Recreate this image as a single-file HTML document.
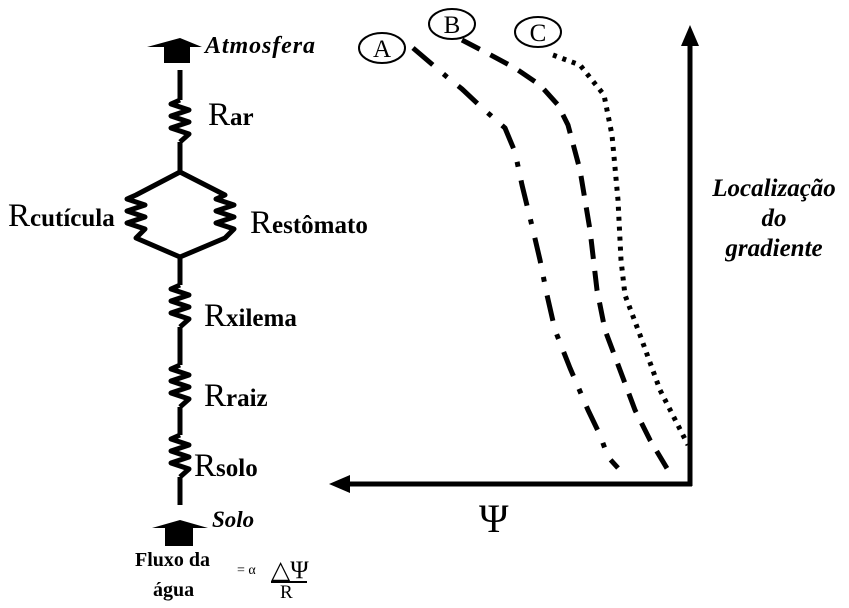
<!DOCTYPE html>
<html><head><meta charset="utf-8"><style>
html,body{margin:0;padding:0;background:#fff;}
svg{display:block}
text{font-family:"Liberation Serif",serif;fill:#000}
</style></head><body>
<svg width="849" height="608" viewBox="0 0 849 608" xmlns="http://www.w3.org/2000/svg">
<polygon points="147,47 180,38 202,47" fill="#000"/>
<rect x="164" y="46" width="26" height="17" fill="#000"/>
<g stroke="#000" stroke-width="5" fill="none" stroke-linejoin="round">
<line x1="180" y1="70" x2="180" y2="100"/>
<polyline points="180,100 171,104 189,110 171,116 189,122 171,128 189,134 180,142"/>
<line x1="180" y1="142" x2="180" y2="172"/>
<polyline points="180,172 136,195 127,199 145,205 127,211 145,217 127,223 145,229 136,238 180,257"/>
<polyline points="180,172 225,195 216,199 234,205 216,211 234,217 216,223 234,229 225,238 180,257"/>
<line x1="180" y1="257" x2="180" y2="285"/>
<polyline points="180,285 171,289 189,295 171,301 189,307 171,313 189,319 180,327"/>
<line x1="180" y1="327" x2="180" y2="365"/>
<polyline points="180,365 171,369 189,375 171,381 189,387 171,393 189,399 180,407"/>
<line x1="180" y1="407" x2="180" y2="435"/>
<polyline points="180,435 171,439 189,445 171,451 189,457 171,463 189,469 180,477"/>
<line x1="180" y1="477" x2="180" y2="505"/>
</g>
<polygon points="152,528 180,520 208,528" fill="#000"/>
<rect x="165" y="527" width="28" height="19" fill="#000"/>

<text x="205" y="53" font-size="24" font-style="italic" font-weight="bold" textLength="110">Atmosfera</text>
<text x="212" y="527" font-size="23" font-style="italic" font-weight="bold">Solo</text>
<text x="208" y="125" font-size="33">R<tspan font-size="25" font-weight="bold">ar</tspan></text>
<text x="8" y="226" font-size="33">R<tspan font-size="25" font-weight="bold">cutícula</tspan></text>
<text x="250" y="233" font-size="33">R<tspan font-size="25" font-weight="bold">estômato</tspan></text>
<text x="204" y="326" font-size="33">R<tspan font-size="25" font-weight="bold">xilema</tspan></text>
<text x="204" y="406" font-size="33">R<tspan font-size="25" font-weight="bold">raiz</tspan></text>
<text x="194" y="476" font-size="33">R<tspan font-size="25" font-weight="bold">solo</tspan></text>
<text x="135" y="566" font-size="20" font-weight="bold">Fluxo da</text>
<text x="153" y="596" font-size="20" font-weight="bold">água</text>
<text x="237" y="574" font-size="14">= α</text>
<text x="271" y="578" font-size="25">△Ψ</text>
<line x1="271" y1="582" x2="307" y2="582" stroke="#000" stroke-width="2"/>
<text x="280" y="598" font-size="19">R</text>

<g stroke="#000" stroke-width="5" fill="none">
<line x1="690" y1="486" x2="690" y2="42"/>
<line x1="692" y1="484" x2="345" y2="484"/>
</g>
<polygon points="690,25 681,46 699,46" fill="#000"/>
<polygon points="329,484 350,475 350,493" fill="#000"/>
<text x="479" y="532" font-size="40">Ψ</text>
<g font-size="25" font-style="italic" font-weight="bold" text-anchor="middle">
<text x="774" y="196">Localização</text>
<text x="774" y="226">do</text>
<text x="774" y="256">gradiente</text>
</g>

<g stroke="#000" stroke-width="5" fill="none" stroke-linejoin="round">
<polyline stroke-dasharray="26 14 5 14" points="413,48 447,77 462,89 480,106 505,128 515,152 522,185 533,230 540,260 547,295 555,330 570,368 588,410 600,435 608,457 618,468"/>
<polyline stroke-dasharray="20 12" points="462,40 485,52 515,68 540,85 558,105 568,125 580,170 590,230 597,290 605,330 620,370 635,410 650,440 668,470"/>
<polyline stroke-dasharray="4 6" points="553,55 580,65 604,95 612,135 618,200 621,260 625,295 640,335 660,390 688,445"/>
</g>
<g stroke="#000" stroke-width="2" fill="#fff">
<ellipse cx="382" cy="48" rx="23" ry="15"/>
<ellipse cx="452" cy="24" rx="23" ry="15"/>
<ellipse cx="538" cy="32" rx="23" ry="15"/>
</g>
<g font-size="25" text-anchor="middle">
<text x="382" y="57">A</text>
<text x="452" y="33">B</text>
<text x="538" y="41">C</text>
</g>
</svg>
</body></html>
